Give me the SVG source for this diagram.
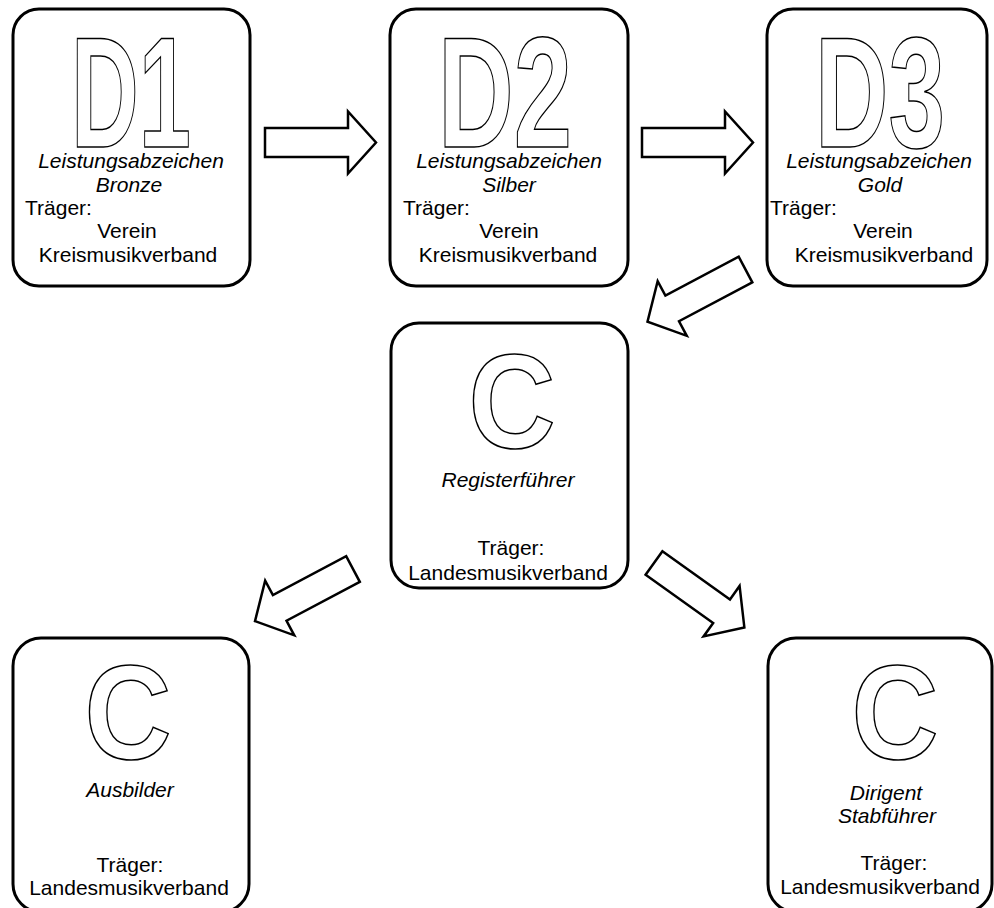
<svg xmlns="http://www.w3.org/2000/svg" xmlns:xlink="http://www.w3.org/1999/xlink" width="994" height="908" viewBox="0 0 994 908">
<style>
.box{fill:#fff;stroke:#000;stroke-width:3}
.big{font-family:"Liberation Sans",Arial,sans-serif;font-weight:bold;fill:#fff;stroke:#000;stroke-width:1.5;text-anchor:middle}
.it{font-family:"Liberation Sans",Arial,sans-serif;font-style:italic;font-size:21px;fill:#000;text-anchor:middle}
.tx{font-family:"Liberation Sans",Arial,sans-serif;font-size:21px;fill:#000}
.c{text-anchor:middle}
.arr{fill:#fff;stroke:#000;stroke-width:2.5;stroke-linejoin:miter}
</style>
<defs>
<path id="arrow" class="arr" d="M0,-14.5 L83,-14.5 L83,-31 L111,0 L83,31 L83,14.5 L0,14.5 Z"/>
</defs>
<rect width="994" height="908" fill="#fff"/>
<g id="connectors">
<use xlink:href="#arrow" href="#arrow" transform="translate(265,142.5)"/>
<use xlink:href="#arrow" href="#arrow" transform="translate(642,142.5)"/>
<use xlink:href="#arrow" href="#arrow" transform="translate(745.5,269.5) rotate(152)"/>
<use xlink:href="#arrow" href="#arrow" transform="translate(353,569) rotate(152)"/>
<use xlink:href="#arrow" href="#arrow" transform="translate(654,563) rotate(35.5)"/>
</g>
<g id="d1">
<rect class="box" x="13" y="9" width="237" height="277" rx="26"/>
<text class="big" x="131" y="147" font-size="158" textLength="120" lengthAdjust="spacingAndGlyphs">D1</text>
<text class="it" x="131" y="168">Leistungsabzeichen</text>
<text class="it" x="129" y="192">Bronze</text>
<text class="tx" x="25" y="215">Träger:</text>
<text class="tx c" x="127" y="238">Verein</text>
<text class="tx c" x="128" y="262">Kreismusikverband</text>
</g>
<g id="d2">
<rect class="box" x="390" y="9" width="238" height="277" rx="26"/>
<text class="big" x="505" y="147" font-size="158" textLength="134" lengthAdjust="spacingAndGlyphs">D2</text>
<text class="it" x="509" y="168">Leistungsabzeichen</text>
<text class="it" x="509" y="192">Silber</text>
<text class="tx" x="403" y="215">Träger:</text>
<text class="tx c" x="509" y="238">Verein</text>
<text class="tx c" x="508" y="262">Kreismusikverband</text>
</g>
<g id="d3">
<rect class="box" x="767" y="9" width="220" height="277" rx="26"/>
<text class="big" x="880" y="147" font-size="158" textLength="130" lengthAdjust="spacingAndGlyphs">D3</text>
<text class="it" x="879" y="168">Leistungsabzeichen</text>
<text class="it" x="880" y="192">Gold</text>
<text class="tx" x="770" y="215">Träger:</text>
<text class="tx c" x="883" y="238">Verein</text>
<text class="tx c" x="884" y="262">Kreismusikverband</text>
</g>
<g id="registerfuehrer">
<rect class="box" x="391" y="323" width="237" height="265" rx="28"/>
<text class="big" x="512" y="448" font-size="134" textLength="87" lengthAdjust="spacingAndGlyphs">C</text>
<text class="it" x="508" y="487">Registerführer</text>
<text class="tx c" x="511" y="555">Träger:</text>
<text class="tx c" x="508" y="580">Landesmusikverband</text>
</g>
<g id="ausbilder">
<rect class="box" x="13" y="638" width="236" height="274" rx="28"/>
<text class="big" x="128" y="759" font-size="134" textLength="87" lengthAdjust="spacingAndGlyphs">C</text>
<text class="it" x="130" y="797">Ausbilder</text>
<text class="tx c" x="130" y="872">Träger:</text>
<text class="tx c" x="129" y="895">Landesmusikverband</text>
</g>
<g id="dirigent">
<rect class="box" x="768" y="638" width="224" height="274" rx="28"/>
<text class="big" x="895" y="759" font-size="134" textLength="87" lengthAdjust="spacingAndGlyphs">C</text>
<text class="it" x="886" y="800">Dirigent</text>
<text class="it" x="887" y="823">Stabführer</text>
<text class="tx c" x="894" y="870">Träger:</text>
<text class="tx c" x="880" y="894">Landesmusikverband</text>
</g>
</svg>
